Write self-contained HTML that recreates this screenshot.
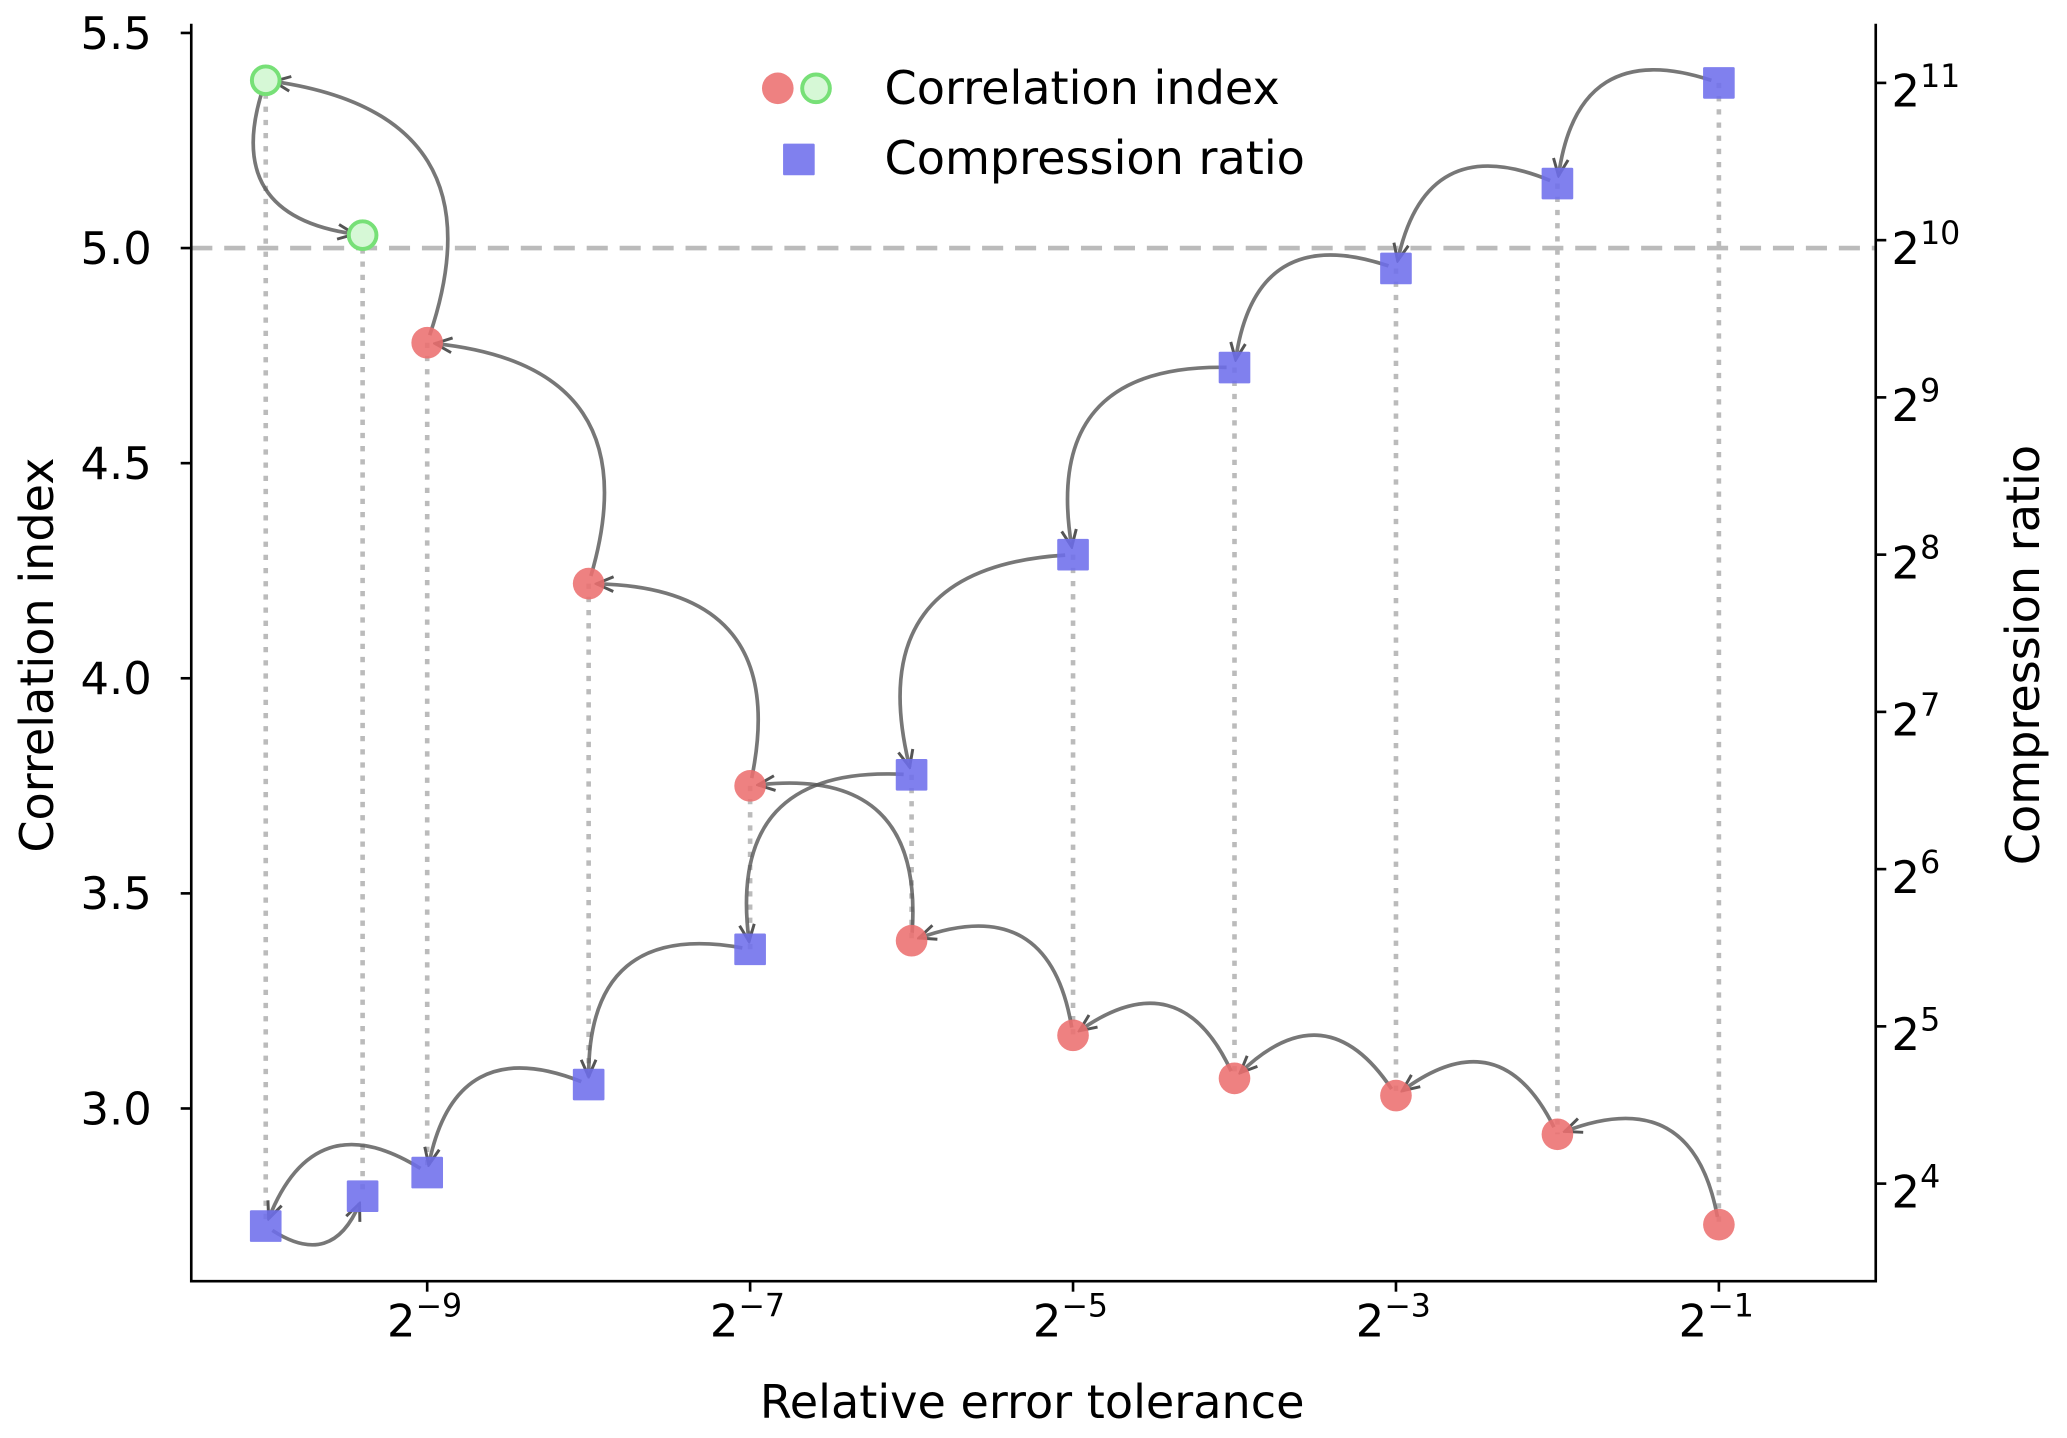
<!DOCTYPE html>
<html><head><meta charset="utf-8"><style>
html,body{margin:0;padding:0;background:#fff;}
svg{display:block;font-family:"DejaVu Sans","Liberation Sans",sans-serif;}
</style></head><body>
<svg id="chart" width="2067" height="1438" viewBox="0 0 1568 1091" xmlns="http://www.w3.org/2000/svg">
<defs>
<marker id="ah" viewBox="0 0 20 20" refX="18" refY="10" markerWidth="16" markerHeight="16" markerUnits="userSpaceOnUse" orient="auto">
<path d="M2 3 L18 10 L2 17" fill="none" stroke="#555" stroke-width="2.8"/>
</marker>
</defs>
<g id="plot"></g>
</svg>
<script>
const xExp = [-10, -9.4, -9, -8, -7, -6, -5, -4, -3, -2, -1];
const corrVals = [5.39, 5.03, 4.78, 4.22, 3.75, 3.39, 3.17, 3.07, 3.03, 2.94, 2.73];
const corrGreen = [true, true, false, false, false, false, false, false, false, false, false];
const compLog2 = [3.73, 3.92, 4.07, 4.63, 5.49, 6.6, 8.0, 9.19, 9.82, 10.36, 11.0];
const chainOrder = [10, 9, 8, 7, 6, 5, 4, 3, 2, 0, 1];
const xTickExp = [-9, -7, -5, -3, -1];
const leftTicks = [3.0, 3.5, 4.0, 4.5, 5.0, 5.5];
const leftTickLabels = ["3.0", "3.5", "4.0", "4.5", "5.0", "5.5"];
const rightTickExp = [4, 5, 6, 7, 8, 9, 10, 11];
const refLine = 5.0;

const L = 145, R = 1423, T = 18, B = 972;
const X = e => 324 + (e + 9) * 122.5;
const YL = v => 841 - (v - 3.0) * 326.4;
const YR = e => 898 - (e - 4) * 119.3;
const NS = "http://www.w3.org/2000/svg";
const g = document.getElementById('plot');
function mk(tag, attrs, parent) {
  const el = document.createElementNS(NS, tag);
  for (const k in attrs) el.setAttribute(k, attrs[k]);
  (parent || g).appendChild(el);
  return el;
}
let el = mk('line', {x1: L, x2: R, y1: YL(refLine), y2: YL(refLine), stroke: '#bbb', 'stroke-width': 3.5, 'stroke-dasharray': '16 9'});


for (let i = 0; i < xExp.length; i++) {
  const y1 = YL(corrVals[i]), y2 = YR(compLog2[i]);
  el = mk('line', {x1: X(xExp[i]), x2: X(xExp[i]), y1: Math.min(y1, y2), y2: Math.max(y1, y2), stroke: '#bbb', 'stroke-width': 3.5, 'stroke-dasharray': '4 6'});
  
  
}
function arrow(x1, y1, x2, y2, name) {
  const dx = x2 - x1, dy = y2 - y1;
  const rad = 0.6;
  const cx = (x1 + x2) / 2 - rad * dy, cy = (y1 + y2) / 2 + rad * dx;
  const s = 6;
  const a1x = cx - x1, a1y = cy - y1, l1 = Math.hypot(a1x, a1y);
  const a2x = cx - x2, a2y = cy - y2, l2 = Math.hypot(a2x, a2y);
  const sx = x1 + a1x / l1 * s, sy = y1 + a1y / l1 * s;
  const ex = x2 + a2x / l2 * s, ey = y2 + a2y / l2 * s;
  const p = mk('path', {d: `M${sx},${sy} Q${cx},${cy} ${ex},${ey}`, fill: 'none', stroke: '#555', 'stroke-opacity': 0.8, 'stroke-width': 2.8, 'marker-end': 'url(#ah)'});
  
  
}
for (let k = 0; k < chainOrder.length - 1; k++) {
  const i = chainOrder[k], j = chainOrder[k + 1];
  arrow(X(xExp[i]), YL(corrVals[i]), X(xExp[j]), YL(corrVals[j]), 'correlation-arrow');
  arrow(X(xExp[i]), YR(compLog2[i]), X(xExp[j]), YR(compLog2[j]), 'compression-arrow');
}
for (let i = 0; i < xExp.length; i++) {
  const cx = X(xExp[i]), cy = YL(corrVals[i]);
  if (corrGreen[i]) {
    el = mk('circle', {cx, cy, r: 10.5, fill: '#d6f8d6', stroke: '#77e077', 'stroke-width': 3});
  } else {
    el = mk('circle', {cx, cy, r: 12, fill: '#ec7070', 'fill-opacity': 0.88});
  }
  
  
  const sy = YR(compLog2[i]);
  el = mk('rect', {x: cx - 12, y: sy - 12, width: 24, height: 24, rx: 1, fill: '#6e6eec', 'fill-opacity': 0.88});
  
  
}
el = mk('path', {d: `M${L},${T} L${L},${B} L${R},${B} L${R},${T}`, fill: 'none', stroke: '#000', 'stroke-width': 2});


leftTicks.forEach((v, i) => {
  mk('line', {x1: L - 8, x2: L, y1: YL(v), y2: YL(v), stroke: '#000', 'stroke-width': 2});
  const t = mk('text', {x: L - 30, y: YL(v) + 12, 'text-anchor': 'end', 'font-size': 34});
  t.textContent = leftTickLabels[i];
  
  
});
rightTickExp.forEach(e => {
  mk('line', {x1: R, x2: R + 8, y1: YR(e), y2: YR(e), stroke: '#000', 'stroke-width': 2});
  const t = mk('text', {x: R + 12, y: YR(e) + 18, 'font-size': 34});
  t.innerHTML = '2<tspan dy="-15" font-size="24">' + e + '</tspan>';
  
  
});
xTickExp.forEach(e => {
  mk('line', {x1: X(e), x2: X(e), y1: B, y2: B + 8, stroke: '#000', 'stroke-width': 2});
  const t = mk('text', {x: X(e) - 2, y: B + 42, 'text-anchor': 'middle', 'font-size': 34});
  t.innerHTML = '2<tspan dy="-15" font-size="24">\u2212' + (-e) + '</tspan>';
  
  
});
el = mk('text', {x: 783, y: 1076, 'text-anchor': 'middle', 'font-size': 35});
el.textContent = 'Relative error tolerance';


el = mk('text', {x: 0, y: 0, 'text-anchor': 'middle', 'font-size': 35, transform: 'translate(40,497) rotate(-90)'});
el.textContent = 'Correlation index';


el = mk('text', {x: 0, y: 0, 'text-anchor': 'middle', 'font-size': 35, transform: 'translate(1547,497) rotate(-90)'});
el.textContent = 'Compression ratio';


const lg = mk('g', {});


el = mk('circle', {cx: 590, cy: 67, r: 12, fill: '#ec7070', 'fill-opacity': 0.88}, lg);


el = mk('circle', {cx: 619, cy: 67, r: 10.5, fill: '#d6f8d6', stroke: '#77e077', 'stroke-width': 3}, lg);


el = mk('text', {x: 671, y: 79, 'font-size': 35}, lg);
el.textContent = 'Correlation index';


el = mk('rect', {x: 594, y: 109, width: 24, height: 24, rx: 1, fill: '#6e6eec', 'fill-opacity': 0.88}, lg);


el = mk('text', {x: 671, y: 132, 'font-size': 35}, lg);
el.textContent = 'Compression ratio';


</script>
</body></html>
